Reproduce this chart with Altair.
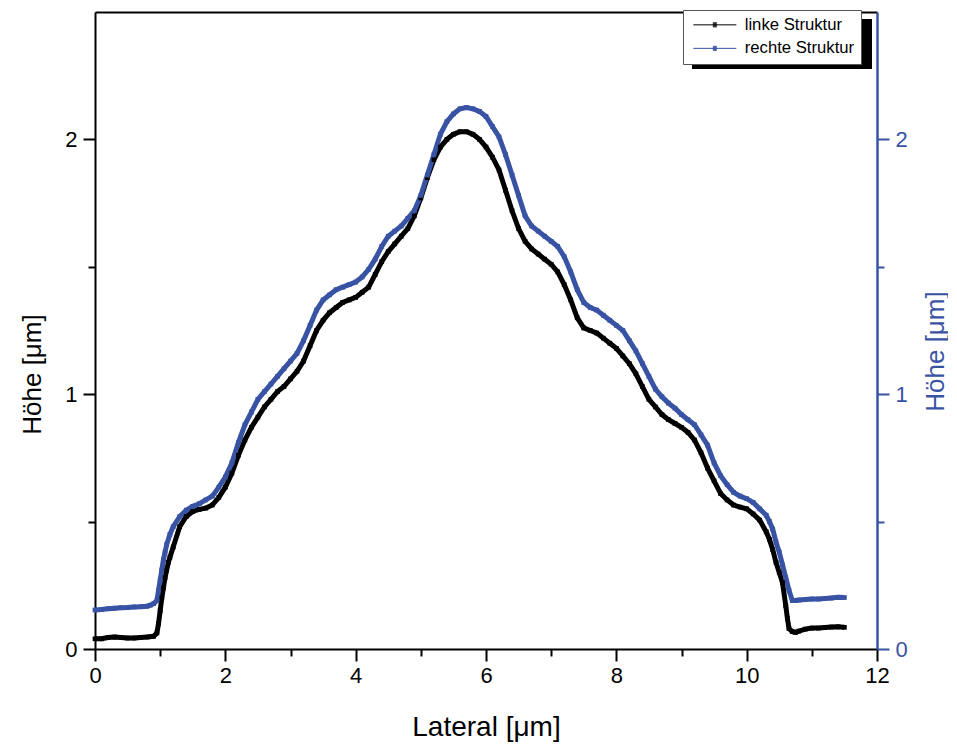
import altair as alt
import pandas as pd

# ---- data ----
x_linke = [0.0, 0.1, 0.2, 0.3, 0.4, 0.5, 0.6, 0.7, 0.8, 0.9, 0.95, 0.975, 1.0, 1.025, 1.05, 1.075, 1.1, 1.125, 1.15,
           1.2, 1.3, 1.4, 1.5, 1.6, 1.7, 1.8, 1.9, 2.0, 2.1, 2.2, 2.3, 2.4, 2.5, 2.6, 2.7, 2.8, 2.9, 3.0,
           3.1, 3.2, 3.3, 3.4, 3.5, 3.6, 3.7, 3.8, 3.9, 4.0, 4.1, 4.2, 4.3, 4.4, 4.5, 4.6, 4.7, 4.8, 4.9, 5.0,
           5.1, 5.2, 5.3, 5.4, 5.5, 5.6, 5.7, 5.8, 5.9, 6.0, 6.1, 6.2, 6.3, 6.4, 6.5, 6.6, 6.7, 6.8, 6.9, 7.0,
           7.1, 7.2, 7.3, 7.4, 7.5, 7.6, 7.7, 7.8, 7.9, 8.0, 8.1, 8.2, 8.3, 8.4, 8.5, 8.6, 8.7, 8.8, 8.9, 9.0,
           9.1, 9.2, 9.3, 9.4, 9.5, 9.6, 9.7, 9.8, 9.9, 10.0, 10.1, 10.2, 10.3, 10.35, 10.4, 10.45, 10.5, 10.55,
           10.6, 10.625, 10.65, 10.7, 10.75, 10.8, 10.9, 11.0, 11.1, 11.2, 11.3, 11.4, 11.5]
y_linke = [0.040, 0.040, 0.045, 0.047, 0.045, 0.043, 0.043, 0.045, 0.047, 0.050, 0.063, 0.10, 0.15, 0.20, 0.24, 0.28, 0.31, 0.34, 0.36,
           0.40, 0.48, 0.52, 0.54, 0.548, 0.553, 0.565, 0.595, 0.635, 0.69, 0.76, 0.82, 0.87, 0.91, 0.95, 0.98, 1.01, 1.03, 1.06,
           1.09, 1.13, 1.19, 1.25, 1.29, 1.32, 1.34, 1.36, 1.37, 1.38, 1.40, 1.42, 1.47, 1.52, 1.56, 1.59, 1.62, 1.65, 1.70, 1.77,
           1.85, 1.92, 1.97, 2.00, 2.02, 2.03, 2.03, 2.02, 2.00, 1.97, 1.93, 1.88, 1.80, 1.72, 1.65, 1.60, 1.57, 1.55, 1.53, 1.51,
           1.48, 1.43, 1.37, 1.30, 1.26, 1.25, 1.24, 1.22, 1.20, 1.18, 1.15, 1.12, 1.08, 1.03, 0.98, 0.95, 0.92, 0.90, 0.885, 0.87,
           0.85, 0.82, 0.77, 0.71, 0.66, 0.61, 0.585, 0.565, 0.557, 0.55, 0.53, 0.506, 0.46, 0.43, 0.39, 0.34, 0.30, 0.26,
           0.17, 0.12, 0.08, 0.068, 0.065, 0.07, 0.078, 0.082, 0.082, 0.084, 0.086, 0.087, 0.085]

x_rechte = [0.0, 0.1, 0.2, 0.3, 0.4, 0.5, 0.6, 0.7, 0.8, 0.85, 0.9, 0.95, 0.975, 1.0, 1.025, 1.05, 1.075, 1.1, 1.15,
            1.2, 1.3, 1.4, 1.5, 1.6, 1.7, 1.8, 1.9, 2.0, 2.1, 2.2, 2.3, 2.4, 2.5, 2.6, 2.7, 2.8, 2.9, 3.0,
            3.1, 3.2, 3.3, 3.4, 3.5, 3.6, 3.7, 3.8, 3.9, 4.0, 4.1, 4.2, 4.3, 4.4, 4.5, 4.6, 4.7, 4.8, 4.9, 5.0,
            5.1, 5.2, 5.3, 5.4, 5.5, 5.6, 5.7, 5.8, 5.9, 6.0, 6.1, 6.2, 6.3, 6.4, 6.5, 6.6, 6.7, 6.8, 6.9, 7.0,
            7.1, 7.2, 7.3, 7.4, 7.5, 7.6, 7.7, 7.8, 7.9, 8.0, 8.1, 8.2, 8.3, 8.4, 8.5, 8.6, 8.7, 8.8, 8.9, 9.0,
            9.1, 9.2, 9.3, 9.4, 9.5, 9.6, 9.7, 9.8, 9.9, 10.0, 10.1, 10.2, 10.3, 10.35, 10.4, 10.45, 10.5, 10.55,
            10.6, 10.65, 10.7, 10.75, 10.8, 10.9, 11.0, 11.1, 11.2, 11.3, 11.4, 11.5]
y_rechte = [0.153, 0.155, 0.158, 0.160, 0.162, 0.163, 0.165, 0.166, 0.168, 0.172, 0.178, 0.19, 0.23, 0.27, 0.31, 0.35, 0.38, 0.41, 0.45,
            0.48, 0.52, 0.545, 0.56, 0.57, 0.585, 0.60, 0.635, 0.675, 0.73, 0.81, 0.88, 0.93, 0.98, 1.01, 1.04, 1.07, 1.10, 1.13,
            1.16, 1.21, 1.27, 1.33, 1.37, 1.39, 1.41, 1.42, 1.43, 1.44, 1.46, 1.49, 1.53, 1.58, 1.62, 1.64, 1.66, 1.69, 1.72, 1.78,
            1.86, 1.94, 2.02, 2.07, 2.10, 2.12, 2.125, 2.12, 2.11, 2.09, 2.05, 2.01, 1.94, 1.86, 1.78, 1.70, 1.66, 1.64, 1.62, 1.60,
            1.58, 1.54, 1.48, 1.41, 1.36, 1.34, 1.33, 1.31, 1.29, 1.27, 1.25, 1.21, 1.17, 1.12, 1.07, 1.02, 0.99, 0.965, 0.945, 0.92,
            0.90, 0.88, 0.84, 0.80, 0.73, 0.68, 0.645, 0.615, 0.60, 0.59, 0.575, 0.55, 0.525, 0.50, 0.47, 0.42, 0.38, 0.33,
            0.28, 0.23, 0.19, 0.19, 0.192, 0.194, 0.196, 0.196, 0.198, 0.200, 0.203, 0.202]

series_names = ["linke Struktur", "rechte Struktur"]
x_ticks = list(range(0, 13))
y_ticks = [0, 0.5, 1, 1.5, 2]

df = pd.concat([
    pd.DataFrame({"x": x_linke, "y": y_linke, "s": series_names[0]}),
    pd.DataFrame({"x": x_rechte, "y": y_rechte, "s": series_names[1]}),
])

FONT = "Liberation Sans"
BLUE = "#3953a4"

xscale = alt.Scale(domain=[0, 12], nice=False, zero=False)
yscale = alt.Scale(domain=[0, 2.5], nice=False, zero=False)
cscale = alt.Scale(domain=series_names, range=["#000000", BLUE])

LEG_PATH = "M-0.9,0H7.7M3,-0.4H3.8M3,-0.2H3.8M3,0H3.8M3,0.2H3.8M3,0.4H3.8"

legend = alt.Legend(
    orient="none", legendX=588, legendY=-2, title=None,
    fillColor="white", strokeColor="#555555", padding=6.5,
    symbolType=LEG_PATH, symbolSize=100, symbolStrokeWidth=1,
    labelFontSize=16.7, labelFont=FONT, labelColor="black", labelOffset=38.5,
    rowPadding=5.5, symbolOpacity=1,
)

x_bottom = alt.Axis(
    orient="bottom", values=x_ticks, format="d",
    labelExpr="datum.value % 2 === 0 ? datum.label : ''",
    tickSize={"condition": {"test": "datum.value % 2 === 0", "value": 12}, "value": 7},
    tickWidth=2, tickColor="black", domainColor="black", domainWidth=2,
    labelColor="black", labelFont=FONT, labelFontSize=22, labelPadding=4,
    labelFlush=False, labelOverlap=False, grid=False,
    title="Lateral [μm]", titleFont=FONT, titleFontSize=28, titleFontWeight="normal",
    titleColor="black", titleX=391, titleY=86, titleAlign="center", titleBaseline="alphabetic",
)
y_left = alt.Axis(
    orient="left", values=y_ticks,
    labelExpr="datum.value % 1 === 0 ? format(datum.value, 'd') : ''",
    tickSize={"condition": {"test": "datum.value % 1 === 0", "value": 12}, "value": 7},
    tickWidth=2, tickColor="black", domainColor="black", domainWidth=2,
    labelColor="black", labelFont=FONT, labelFontSize=22, labelPadding=6,
    labelFlush=False, labelOverlap=False, grid=False,
    title="Höhe [μm]", titleFont=FONT, titleFontSize=26, titleFontWeight="normal",
    titleColor="black", titleAngle=270, titleX=-55, titleY=362, titleAlign="center",
    titleBaseline="alphabetic",
)
x_top = alt.Axis(orient="top", ticks=False, labels=False, domainColor="black",
                 domainWidth=2, grid=False, title=None)
y_right = alt.Axis(
    orient="right", values=y_ticks,
    labelExpr="datum.value % 1 === 0 ? format(datum.value, 'd') : ''",
    tickSize={"condition": {"test": "datum.value % 1 === 0", "value": 12}, "value": 7},
    tickWidth=2, tickColor=BLUE, domainColor=BLUE, domainWidth=2.5,
    labelColor=BLUE, labelFont=FONT, labelFontSize=22, labelPadding=6,
    labelFlush=False, labelOverlap=False, grid=False,
    title="Höhe [μm]", titleFont=FONT, titleFontSize=26, titleFontWeight="normal",
    titleColor=BLUE, titleAngle=270, titleX=66, titleY=339, titleAlign="center",
    titleBaseline="alphabetic",
)

shadow = alt.Chart(df).mark_rect(color="black").encode(
    x=alt.value(597), x2=alt.value(777), y=alt.value(7), y2=alt.value(57)
)

lines = alt.Chart(df).mark_line(strokeWidth=5).encode(
    x=alt.X("x:Q", scale=xscale, axis=x_bottom),
    y=alt.Y("y:Q", scale=yscale, axis=y_left),
    color=alt.Color("s:N", scale=cscale, legend=legend),
    detail="s:N",
)

points = alt.Chart(df).mark_point(shape="square", filled=True, size=22, opacity=1).encode(
    x=alt.X("x:Q", scale=xscale, axis=x_top),
    y=alt.Y("y:Q", scale=yscale, axis=y_right),
    color=alt.Color("s:N", scale=cscale, legend=legend),
)

chart = alt.layer(shadow, lines, points).resolve_axis(
    x="independent", y="independent"
).properties(
    width=782, height=637,
    padding={"left": 87, "top": 4, "right": 71, "bottom": 95},
    autosize=alt.AutoSizeParams(type="none"),
).configure_view(stroke=None).configure(background="white")

chart.save("out.html", embed_options={"renderer": "svg", "actions": False})
